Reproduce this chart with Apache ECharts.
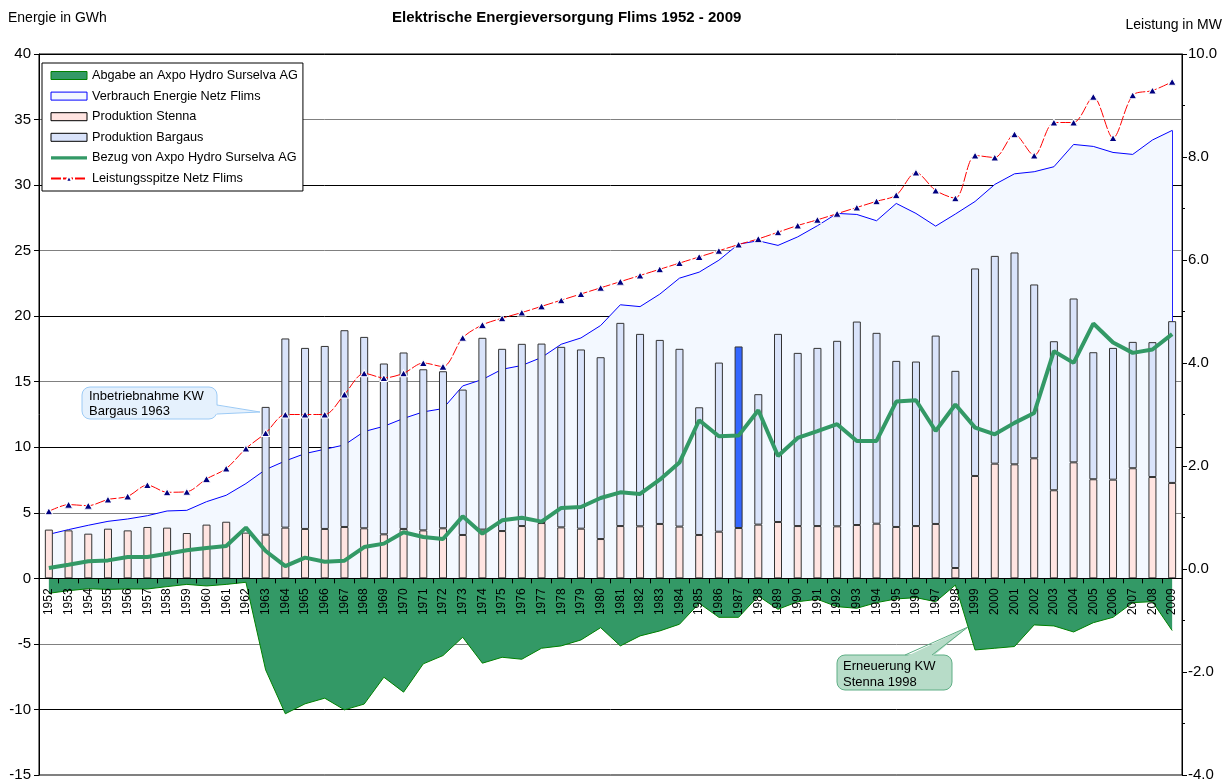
<!DOCTYPE html>
<html>
<head>
<meta charset="utf-8">
<title>Elektrische Energieversorgung Flims 1952 - 2009</title>
<script src="https://cdn.jsdelivr.net/npm/echarts@6/dist/echarts.min.js"></script>
<style>
  html, body { margin: 0; padding: 0; background: #fff; }
  #chart { width: 1231px; height: 781px; }
</style>
</head>
<body>
<div id="chart"></div>
<script>
// Jahre
var years = [
  '1952','1953','1954','1955','1956','1957','1958','1959','1960','1961',
  '1962','1963','1964','1965','1966','1967','1968','1969','1970','1971',
  '1972','1973','1974','1975','1976','1977','1978','1979','1980','1981',
  '1982','1983','1984','1985','1986','1987','1988','1989','1990','1991',
  '1992','1993','1994','1995','1996','1997','1998','1999','2000','2001',
  '2002','2003','2004','2005','2006','2007','2008','2009'
];

// Produktion Stenna (GWh)
var stenna = [
  3.72, 3.66, 3.41, 3.79, 3.66, 3.92, 3.87, 3.46, 4.10, 4.32,
  3.49, 3.33, 3.87, 3.77, 3.77, 3.92, 3.82, 3.36, 3.77, 3.66,
  3.82, 3.31, 3.72, 3.61, 3.99, 4.22, 3.89, 3.79, 3.00, 3.99,
  3.97, 4.15, 3.95, 3.31, 3.56, 3.84, 4.10, 4.30, 3.99, 3.99,
  3.97, 4.07, 4.17, 3.92, 3.99, 4.15, 0.79, 7.81, 8.75, 8.70,
  9.16, 6.72, 8.85, 7.56, 7.53, 8.40, 7.73, 7.28
];

// Produktion Bargaus (GWh), KW ab 1963
var bargaus = [
  null, null, null, null, null, null, null, null, null, null,
  null, 9.75, 14.43, 13.81, 13.96, 15.01, 14.60, 13.03, 13.46, 12.29,
  11.98, 11.09, 14.63, 13.90, 13.90, 13.69, 13.77, 13.67, 13.87, 15.50,
  14.68, 14.04, 13.56, 9.74, 12.90, 13.85, 9.95, 14.35, 13.21, 13.59,
  14.15, 15.52, 14.56, 12.67, 12.55, 14.37, 15.04, 15.83, 15.85, 16.16,
  13.26, 11.37, 12.50, 9.69, 10.05, 9.64, 10.29, 12.34
];

// Verbrauch Energie Netz Flims (GWh)
var verbrauch = [
  3.36, 3.72, 4.05, 4.35, 4.53, 4.78, 5.14, 5.19, 5.85, 6.34,
  7.23, 8.30, 8.96, 9.52, 9.85, 10.18, 11.20, 11.60, 12.20, 12.70,
  12.95, 14.68, 15.17, 15.95, 16.24, 16.85, 17.86, 18.34, 19.29, 20.87,
  20.73, 21.68, 22.90, 23.36, 24.27, 25.50, 25.75, 25.40, 26.05, 26.90,
  27.84, 27.76, 27.28, 28.60, 27.84, 26.87, 27.79, 28.75, 30.05, 30.86,
  31.02, 31.40, 33.10, 32.95, 32.49, 32.34, 33.44, 34.17
];

// Bezug von Axpo Hydro Surselva AG (GWh)
var bezug = [
  0.79, 1.04, 1.30, 1.37, 1.63, 1.63, 1.88, 2.14, 2.32, 2.47,
  3.87, 2.09, 0.94, 1.58, 1.27, 1.35, 2.39, 2.65, 3.52, 3.16,
  3.00, 4.73, 3.41, 4.43, 4.63, 4.33, 5.37, 5.44, 6.13, 6.56,
  6.44, 7.53, 8.83, 12.06, 10.84, 10.89, 12.82, 9.34, 10.71, 11.23,
  11.76, 10.48, 10.48, 13.49, 13.59, 11.24, 13.26, 11.50, 10.99, 11.86,
  12.62, 17.33, 16.44, 19.44, 17.99, 17.20, 17.46, 18.63
];

// Abgabe an Axpo Hydro Surselva AG (GWh, negativ)
var abgabe = [
  -1.14, -0.94, -0.79, -0.84, -0.81, -0.81, -0.63, -0.46, -0.58, -0.46,
  -0.30, -6.98, -10.33, -9.57, -9.14, -10.03, -9.59, -7.54, -8.68, -6.52,
  -5.89, -4.49, -6.47, -6.02, -6.17, -5.33, -5.15, -4.70, -3.76, -5.15,
  -4.39, -4.01, -3.50, -1.90, -2.97, -2.97, -1.35, -2.36, -1.78, -1.60,
  -2.16, -2.28, -1.85, -1.57, -1.47, -1.78, -0.51, -5.46, -5.33, -5.20,
  -3.55, -3.63, -4.09, -3.38, -2.97, -1.85, -1.78, -3.98
];

// Leistungsspitze Netz Flims (MW)
var leistung = [
  1.12, 1.25, 1.23, 1.35, 1.41, 1.63, 1.49, 1.50, 1.75, 1.95,
  2.34, 2.64, 3.00, 3.00, 3.00, 3.39, 3.80, 3.71, 3.80, 4.00,
  3.93, 4.49, 4.74, 4.87, 4.98, 5.10, 5.22, 5.34, 5.46, 5.58,
  5.70, 5.82, 5.94, 6.06, 6.18, 6.30, 6.41, 6.54, 6.67, 6.78,
  6.90, 7.02, 7.14, 7.26, 7.70, 7.35, 7.20, 8.03, 7.99, 8.44,
  8.03, 8.67, 8.67, 9.17, 8.37, 9.20, 9.29, 9.46
];

var FONT = '"Liberation Sans", Arial, sans-serif';

// Achsenbereich links
var yMin = -15, yMax = 40;
var gridTop = 54, gridBottom = 6, chartH = 781;

// 1987 hervorgehoben
var bargausData = bargaus.map(function (v, i) {
  return years[i] === '1987' ? { value: v, itemStyle: { color: '#3366ff' } } : v;
});

var lastYear = years[years.length - 1];
var lastVerbrauch = verbrauch[verbrauch.length - 1];

// x-Achse auf die Nulllinie schieben
var plotH = chartH - gridTop - gridBottom;
var zeroOffset = -plotH * (0 - yMin) / (yMax - yMin);

var chart = echarts.init(document.getElementById('chart'));

chart.setOption({
  animation: false,
  textStyle: { fontFamily: FONT, color: '#000' },
  title: [
    { text: 'Elektrische Energieversorgung Flims 1952 - 2009', left: 392, top: 10, padding: 0,
      textStyle: { fontFamily: FONT, fontSize: 15, fontWeight: 'bold', color: '#000' } },
    { text: 'Energie in GWh', left: 8, top: 11, padding: 0,
      textStyle: { fontFamily: FONT, fontSize: 14, fontWeight: 'normal', color: '#000' } },
    { text: 'Leistung in MW', right: 9, top: 18, padding: 0,
      textStyle: { fontFamily: FONT, fontSize: 14, fontWeight: 'normal', color: '#000' } }
  ],
  legend: {
    orient: 'vertical',
    left: 42,
    top: 63,
    padding: [6, 5, 6, 8],
    itemGap: 7.6,
    itemWidth: 36,
    itemHeight: 8,
    backgroundColor: '#fff',
    borderColor: '#000',
    borderWidth: 1,
    textStyle: { fontFamily: FONT, fontSize: 12.7, color: '#000' },
    data: [
      { name: 'Abgabe an Axpo Hydro Surselva AG', icon: 'rect',
        itemStyle: { color: '#339966', borderColor: '#008000', borderWidth: 1 } },
      { name: 'Verbrauch Energie Netz Flims', icon: 'rect',
        itemStyle: { color: '#f3f8ff', borderColor: '#0000ff', borderWidth: 1 } },
      { name: 'Produktion Stenna', icon: 'rect',
        itemStyle: { color: '#ffe4e1', borderColor: '#000', borderWidth: 1 } },
      { name: 'Produktion Bargaus', icon: 'rect',
        itemStyle: { color: '#d9e3fa', borderColor: '#000', borderWidth: 1 } },
      { name: 'Bezug von Axpo Hydro Surselva AG',
        icon: 'path://M0,0 M36,8 M0,2.3 L36,2.3 L36,5.7 L0,5.7 Z',
        itemStyle: { color: '#339966', borderWidth: 0 } },
      { name: 'Leistungsspitze Netz Flims' }
    ]
  },
  grid: {
    left: 39, right: 49, top: gridTop, bottom: gridBottom,
    outerBoundsMode: 'none',
    containLabel: false,
    show: true, borderColor: '#000', borderWidth: 1, backgroundColor: 'transparent'
  },
  xAxis: {
    type: 'category',
    data: years,
    boundaryGap: true,
    position: 'bottom',
    offset: zeroOffset,
    z: 10,
    axisLine: { onZero: false, lineStyle: { color: '#000', width: 1 } },
    axisTick: { show: true, length: 5, lineStyle: { color: '#000' } },
    axisLabel: { interval: 0, rotate: 90, margin: 10, fontSize: 12, fontFamily: FONT, color: '#000' },
    splitLine: { show: false }
  },
  yAxis: [
    {
      type: 'value',
      min: yMin, max: yMax, interval: 5,
      axisLine: { show: true, lineStyle: { color: '#000' } },
      axisTick: { show: true, length: 5, lineStyle: { color: '#000' } },
      axisLabel: { margin: 8, fontSize: 15, fontFamily: FONT, color: '#000' },
      splitLine: { show: true, lineStyle: { color: ['#808080', '#000'], width: 1 } }
    },
    {
      type: 'value',
      position: 'right',
      min: -4, max: 10, interval: 2,
      axisLine: { show: true, lineStyle: { color: '#000' } },
      axisTick: { show: true, length: 5, lineStyle: { color: '#000' } },
      minorTick: { show: true, splitNumber: 2, length: 3, lineStyle: { color: '#000' } },
      axisLabel: { margin: 6, fontSize: 15, fontFamily: FONT, color: '#000',
        formatter: function (v) { return v.toFixed(1); } },
      splitLine: { show: false }
    }
  ],
  series: [
    {
      name: 'Verbrauch Energie Netz Flims',
      type: 'line',
      data: verbrauch,
      symbol: 'none',
      z: 1,
      lineStyle: { color: '#0000ff', width: 1 },
      itemStyle: { color: '#0000ff' },
      areaStyle: { color: '#f3f8ff', opacity: 1 },
      markLine: {
        silent: true,
        z: 1,
        symbol: ['none', 'none'],
        label: { show: false },
        lineStyle: { color: '#0000ff', width: 1, type: 'solid' },
        data: [[{ coord: [lastYear, lastVerbrauch] }, { coord: [lastYear, 0] }]]
      }
    },
    {
      name: 'Abgabe an Axpo Hydro Surselva AG',
      type: 'line',
      data: abgabe,
      symbol: 'none',
      z: 1,
      lineStyle: { color: '#008000', width: 1 },
      itemStyle: { color: '#339966' },
      areaStyle: { color: '#339966', opacity: 1 }
    },
    {
      name: 'Produktion Stenna',
      type: 'bar',
      stack: 'prod',
      data: stenna,
      barWidth: 8,
      z: 2,
      itemStyle: { color: '#ffe4e1', borderColor: '#333', borderWidth: 1 }
    },
    {
      name: 'Produktion Bargaus',
      type: 'bar',
      stack: 'prod',
      data: bargausData,
      barWidth: 8,
      z: 2,
      itemStyle: { color: '#d9e3fa', borderColor: '#333', borderWidth: 1 }
    },
    {
      name: 'Bezug von Axpo Hydro Surselva AG',
      type: 'line',
      data: bezug,
      symbol: 'none',
      z: 3,
      lineStyle: { color: '#339966', width: 4 },
      itemStyle: { color: '#339966' }
    },
    {
      name: 'Leistungsspitze Netz Flims',
      type: 'line',
      yAxisIndex: 1,
      data: leistung,
      smooth: 0.3,
      z: 4,
      symbol: 'triangle',
      symbolSize: [8, 7],
      lineStyle: { color: '#ff0000', width: 1, type: [10, 2] },
      itemStyle: { color: '#000080', borderColor: '#fff', borderWidth: 1 }
    }
  ],
  graphic: [
    // Inbetriebnahme KW Bargaus 1963
    { type: 'rect', z: 100, shape: { x: 82, y: 387, width: 135, height: 32, r: 8 },
      style: { fill: '#e5f1fd', stroke: '#9ccaf5', lineWidth: 1 } },
    { type: 'polygon', z: 101, shape: { points: [[215, 405], [260, 412], [215, 414]] },
      style: { fill: '#e5f1fd', stroke: null } },
    { type: 'polyline', z: 101, shape: { points: [[217, 405], [260, 412], [217, 414]] },
      style: { stroke: '#9ccaf5', lineWidth: 1, fill: null } },
    { type: 'text', z: 102, left: 89, top: 389,
      style: { text: 'Inbetriebnahme KW\nBargaus 1963', font: '13px ' + FONT, fill: '#000', lineHeight: 15 } },
    // Erneuerung KW Stenna 1998
    { type: 'rect', z: 100, shape: { x: 837, y: 655, width: 115, height: 35, r: 8 },
      style: { fill: '#b7dcc8', stroke: '#5fae85', lineWidth: 1 } },
    { type: 'polygon', z: 101, shape: { points: [[905, 657], [968, 627], [932, 657]] },
      style: { fill: '#b7dcc8', stroke: null } },
    { type: 'polyline', z: 101, shape: { points: [[905, 655], [968, 627], [932, 655]] },
      style: { stroke: '#5fae85', lineWidth: 1, fill: null } },
    { type: 'text', z: 102, left: 843, top: 658,
      style: { text: 'Erneuerung KW\nStenna 1998', font: '13px ' + FONT, fill: '#000', lineHeight: 16 } }
  ]
});
</script>
</body>
</html>
